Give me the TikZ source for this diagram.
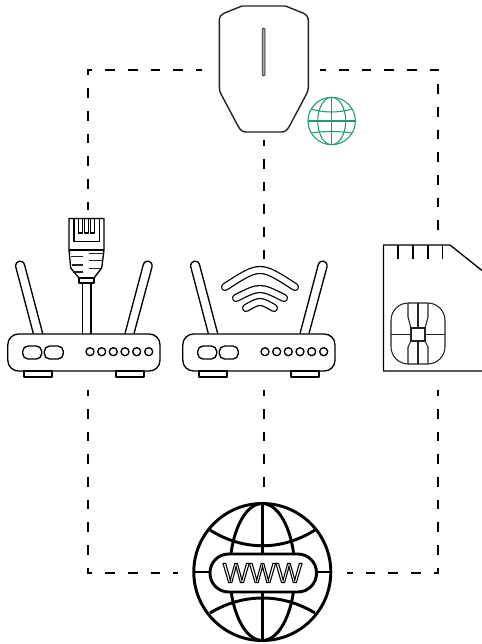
\documentclass[tikz,border=0pt]{standalone}
\usepackage{fontspec}
\setmainfont{Liberation Sans}
\usetikzlibrary{positioning,calc}
\definecolor{inkdark}{HTML}{222222}
\definecolor{netgreen}{HTML}{1F9A72}

\begin{document}
\begin{tikzpicture}[x=0.75pt,y=-0.75pt,
  slot/.style={rectangle, inner sep=0pt, minimum width=#1},
  line/.style={draw=black, line width=1pt, line join=round},
  thinline/.style={draw=inkdark, line width=0.8pt},
  stripe/.style={draw=inkdark, line width=1.1pt},
  link/.style={draw=black, line width=0.8pt, dash pattern=on 7.2pt off 9.8pt, dash phase=3pt},
  band/.style={draw=black, line width=0.95pt, line cap=round, double=white, double distance=4.2pt},
  earth/.style={draw=black, line width=2.2pt}
]
  \useasboundingbox (0,0) rectangle (482,644);

  % anchors for the links
  \node[slot=88.5pt, minimum height=105pt] (charger) at (261,70) {};
  \node[slot=27pt, minimum height=78pt] (plug) at (88,262) {};
  \node[slot=114pt, minimum height=55.5pt] (routerA) at (88,353) {};
  \node[slot=114pt, minimum height=55.5pt] (routerB) at (264,353) {};
  \node[slot=60pt, minimum height=33pt] (wifi) at (264,284) {};
  \node[slot=60pt, minimum height=120pt] (sim) at (438,310) {};
  \node[slot=126.75pt, minimum height=124.5pt] (webglobe) at (262.5,573) {};

  \draw[link] (charger.west) -| (plug.north);
  \draw[link] (charger.east) -| (sim.north);
  \draw[link] (charger.south -| wifi.north) -- (wifi.north);
  \draw[link] (routerA.south) |- (webglobe.west);
  \draw[link] (routerB.south) -- (routerB.south |- webglobe.north);
  \draw[link] (sim.south) |- (webglobe.east);

  % charger
  \draw[draw=inkdark, line width=1.05pt, line join=round]
    (242,6) -- (285.5,6) -- (303,13) .. controls (307,15) and (308.3,17) .. (308.3,21)
    -- (308.3,87) .. controls (308.3,90) and (307.5,92) .. (306.5,94)
    -- (289.5,126) .. controls (287,130.5) and (285,132) .. (281,132)
    -- (246.5,132) .. controls (242.5,132) and (240.5,130.5) .. (238,126)
    -- (221,94) .. controls (220,92) and (219.3,90) .. (219.3,87)
    -- (219.3,21) .. controls (219.3,17) and (220.5,15) .. (224.5,13) -- cycle;
  \draw[draw=inkdark, fill=gray!70, line width=0.6pt, rounded corners=1pt] (262.3,28) rectangle (265,76);

  % small globe
  \draw[netgreen, line width=0.8pt] (331.7,121) circle (23.7);
  \draw[netgreen, line width=0.8pt] (331.7,121) ellipse (14 and 23.7);
  \draw[netgreen, line width=0.8pt] (331.7,97.3) -- (331.7,144.7);
  \draw[netgreen, line width=0.8pt] (308,121) -- (355.4,121);
  \draw[netgreen, line width=0.8pt] (311,109) .. controls (325,113) and (338,113) .. (352,109);
  \draw[netgreen, line width=0.8pt] (311,133) .. controls (325,131) and (338,131) .. (352,133);

  % routers
  \foreach \dx in {0,175} {
    \begin{scope}[xshift=\dx*0.75pt]
      \draw[line] (33.3,333.5) -- (15.8,267) .. controls (14.8,260.5) and (23,258.5) .. (24.6,265) -- (42.7,333.5);
      \draw[line] (125,333.5) -- (143.2,265) .. controls (145,258.5) and (153,260.5) .. (152,267) -- (134,333.5);
      \draw[line, rounded corners=8pt] (7.8,334) rectangle (160,371);
      \draw[line, rounded corners=4pt] (22.7,346) rectangle (41.7,359);
      \draw[line, rounded corners=4pt] (44.3,346) rectangle (63.3,359);
      \foreach \px in {90,101.7,113.3,125,136.7,148.7}
        \draw[line] (\px,351.7) circle (4);
      \draw[line] (24,371) rectangle (52,377);
      \draw[line] (116,371) rectangle (144,377);
    \end{scope}
  }

  % wifi
  \draw[band] (225,287) .. controls (260,264.3) .. (295,287);
  \draw[band] (236,298) .. controls (260,286) .. (284,298);
  \draw[band] (246,308) .. controls (260,300) .. (274,308);

  % cable and rj45 plug
  \draw[line, line width=1.2pt] (82.3,283) -- (82.3,334);
  \draw[line, line width=1.2pt] (91,283) -- (91,334);
  \draw[line] (69,218.5) -- (104,218.5) -- (104,250) -- (101.7,268) -- (94,278) -- (79,278) -- (70.7,268) -- (69,250) -- cycle;
  \draw[line] (69,250) -- (104,250);
  \draw[line] (74,218.5) -- (74,241.7) -- (99.3,241.7) -- (99.3,218.5);
  \draw[line] (79,278) rectangle (94,283);
  \foreach \cx in {78.3,84.3,90.3}
    \draw[line, line width=0.8pt] (\cx,218.5) -- (\cx,233) -- (\cx+4.6,233) -- (\cx+4.6,218.5);
  \draw[stripe] (71,256.7) -- (83,256.7);
  \draw[stripe] (71.5,265) -- (83,265);
  \draw[stripe] (72.5,272) -- (83,272);
  \draw[stripe] (89.3,253.3) -- (103,253.3);
  \draw[stripe] (89.3,260.7) -- (102.5,260.7);
  \draw[stripe] (89.3,268.3) -- (101,268.3);

  % sim card
  \draw[line] (482,270.5) -- (450,245) -- (383.5,245) -- (383.5,371) -- (482,371);
  \foreach \tx in {398,413,428,442.5}
    \draw[line] (\tx,245) -- (\tx,259);
  \draw[thinline, rounded corners=13pt] (391,303) rectangle (445,364);
  \draw[thinline] (411,328) rectangle (425,341);
  \draw[thinline] (391,334.5) -- (411,334.5);
  \draw[thinline] (425,334.5) -- (445,334.5);
  \draw[thinline] (418,303) -- (418,328);
  \draw[thinline] (418,341) -- (418,364);
  \draw[thinline] (408,303) -- (408,317) -- (411,328);
  \draw[thinline] (428,303) -- (428,317) -- (425,328);
  \draw[thinline] (408,364) -- (408,347) -- (411,341);
  \draw[thinline] (428,364) -- (428,347) -- (425,341);

  % big globe
  \draw[earth] (262.3,572) circle (68.5);
  \draw[earth] (262.3,572) ellipse (32.5 and 68.5);
  \draw[earth] (262.3,503.5) -- (262.3,640.5);
  \draw[earth] (193.8,572) -- (330.8,572);
  \draw[earth] (210,530) .. controls (243,551) and (282,551) .. (315,530);
  \draw[earth] (210,613) .. controls (243,593) and (282,593) .. (315,613);
  \draw[earth, fill=white, rounded corners=14pt] (210,554) rectangle (316.5,592);
  \node[inner sep=0pt, font=\fontsize{21}{21}\selectfont] (www) at (262.5,573)
    {\special{pdf:code q 1 Tr 0.8 w}WWW\special{pdf:code Q}};
\end{tikzpicture}
\end{document}
